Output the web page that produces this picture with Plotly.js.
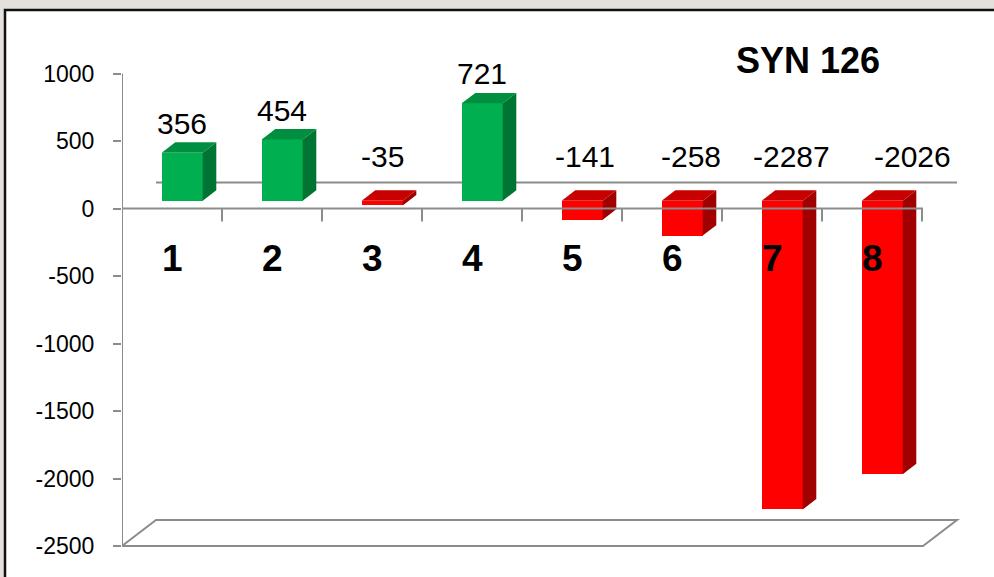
<!DOCTYPE html>
<html>
<head>
<meta charset="utf-8">
<script src="https://cdn.plot.ly/plotly-3.0.1.min.js"></script>
<style>
  html, body { margin: 0; padding: 0; background: #e4e1dc; }
  #chart { width: 994px; height: 577px; }
</style>
</head>
<body>
<div id="chart"></div>
<script>
// ---- data ----
const categories = ['1', '2', '3', '4', '5', '6', '7', '8'];
const values = [356, 454, -35, 721, -141, -258, -2287, -2026];
const yTickVals = [1000, 500, 0, -500, -1000, -1500, -2000, -2500];
const yTickText = ['1000', '500', '0', '-500', '-1000', '-1500', '-2000', '-2500'];
const chartTitle = 'SYN 126';

// ---- geometry / style (layout constants) ----
const W = 994, H = 577;
const mL = 122, mR = 34, mT = 40, mB = 17;
const plotW = W - mL - mR, plotH = H - mT - mB;
const pxPerY = 0.135;                 // px per value unit
const yTop = (208.5 - mT) / pxPerY;
const yBot = (208.5 - (H - mB)) / pxPerY;
const xMin = 0.5, xMax = xMin + plotW / 100;
const depthX = 0.34, depthY = 26 / pxPerY;
const fX = 0.3 * depthX, fY = 0.3 * depthY;   // bar front offset
const dX = 0.4 * depthX, dY = 0.4 * depthY;   // bar depth
const bw = 0.41;
const labelShift = [0, 0, 0, 0, 3, 9, 9, 30];

const GREEN = ['#00b050', '#008f40', '#007432'];
const RED = ['#ff0000', '#c80000', '#a00000'];
const AX = '#8c8c8c';
const FONT = 'Liberation Sans, Arial, sans-serif';

const xs = categories.map((c, i) => i + 1);
const colorsOf = v => (v >= 0 ? GREEN : RED);

const traces = [];
// front faces
traces.push({
  type: 'bar', x: xs, y: values, base: fY, width: bw, offset: fX - bw / 2,
  marker: { color: values.map(v => colorsOf(v)[0]), line: { width: 0 } },
  hoverinfo: 'skip', showlegend: false
});
// side + top faces
values.forEach((v, i) => {
  const xl = xs[i] + fX - bw / 2, xr = xs[i] + fX + bw / 2;
  const b = fY, t = fY + v, top = Math.max(b, t);
  const c = colorsOf(v);
  traces.push({
    type: 'scatter', mode: 'lines', fill: 'toself', fillcolor: c[2],
    x: [xr, xr, xr + dX, xr + dX, xr], y: [b, t, t + dY, b + dY, b],
    line: { width: 0 }, hoverinfo: 'skip', showlegend: false
  });
  traces.push({
    type: 'scatter', mode: 'lines', fill: 'toself', fillcolor: c[1],
    x: [xl, xr, xr + dX, xl + dX, xl], y: [top, top, top + dY, top + dY, top],
    line: { width: 0 }, hoverinfo: 'skip', showlegend: false
  });
});

const px2paperX = p => (p - mL) / plotW;
const px2paperY = p => (H - mB - p) / plotH;

const shapes = [];
// white frame with black border
shapes.push({ type: 'rect', xref: 'paper', yref: 'paper', layer: 'below',
  x0: px2paperX(5), x1: px2paperX(W + 20), y0: px2paperY(H + 20), y1: px2paperY(10),
  fillcolor: '#ffffff', line: { color: '#111111', width: 2.5 } });
const lineStyle = { color: AX, width: 2 };
// back zero gridline
shapes.push({ type: 'line', layer: 'below', x0: xMin + depthX, x1: 8.51 + depthX, y0: depthY, y1: depthY, line: lineStyle });
// floor
const fl = -2500;
shapes.push({ type: 'path', layer: 'below',
  path: `M ${xMin},${fl} L 8.51,${fl} L ${8.51 + depthX},${fl + depthY} L ${xMin + depthX},${fl + depthY} Z`,
  line: lineStyle });
// value axis line
shapes.push({ type: 'line', layer: 'below', x0: xMin, x1: xMin, y0: -2500, y1: 1000, line: lineStyle });
// category axis line + ticks (over the bars)
shapes.push({ type: 'line', layer: 'above', x0: xMin, x1: 8.51, y0: 0, y1: 0, line: lineStyle });
xs.forEach(x => {
  shapes.push({ type: 'line', layer: 'above', x0: x + 0.5, x1: x + 0.5, y0: 0, y1: -13 / pxPerY, line: lineStyle });
});

const annotations = [];
values.forEach((v, i) => {
  const xc = xs[i] + fX;
  let yc;
  if (v >= 0) yc = fY + v + dY + 19 / pxPerY;
  else yc = fY + dY + 34 / pxPerY;
  annotations.push({ x: xc, y: yc, text: String(v), showarrow: false, xshift: labelShift[i],
    xanchor: 'center', yanchor: 'middle', font: { family: FONT, size: 30, color: '#000' } });
  annotations.push({ x: xs[i], y: -50 / pxPerY, text: '<b>' + categories[i] + '</b>', showarrow: false,
    xanchor: 'center', yanchor: 'middle', font: { family: FONT, size: 37, color: '#000' } });
});
annotations.push({ x: xMin + (808 - mL) / 100, y: (208.5 - 60) / pxPerY, text: '<b>' + chartTitle + '</b>',
  showarrow: false, xanchor: 'center', yanchor: 'middle', font: { family: FONT, size: 36, color: '#000' } });

const layout = {
  width: W, height: H,
  margin: { l: mL, r: mR, t: mT, b: mB, pad: 0 },
  paper_bgcolor: '#e4e1dc', plot_bgcolor: '#ffffff',
  showlegend: false,
  xaxis: { range: [xMin, xMax], showgrid: false, zeroline: false, showline: false,
    showticklabels: false, ticks: '', fixedrange: true },
  yaxis: { range: [yBot, yTop], showgrid: false, zeroline: false, showline: false,
    tickmode: 'array', tickvals: yTickVals, ticktext: yTickText,
    ticks: 'outside', ticklen: 8, tickwidth: 2, tickcolor: AX, ticklabelstandoff: 14,
    tickfont: { family: FONT, size: 23, color: '#000' }, fixedrange: true },
  shapes: shapes, annotations: annotations, bargap: 0
};

Plotly.newPlot('chart', traces, layout, { displayModeBar: false, staticPlot: true });
</script>
</body>
</html>
